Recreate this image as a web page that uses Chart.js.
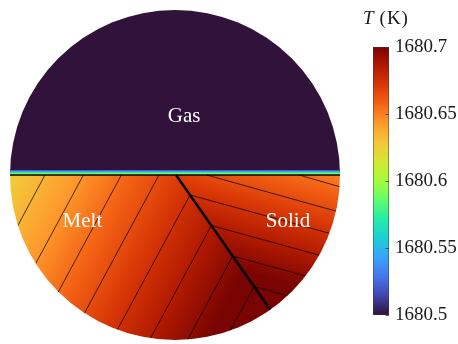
<!DOCTYPE html>
<html>
<head>
<meta charset="utf-8">
<script src="https://cdn.jsdelivr.net/npm/chart.js@4.4.1/dist/chart.umd.min.js"></script>
<style>
  html, body { margin: 0; padding: 0; background: #fff; }
  #wrap { position: relative; width: 458px; height: 344px; overflow: hidden; }
  #field { position: absolute; left: 0; top: 0; }
  #cbar { position: absolute; left: 340px; top: 0; }
</style>
</head>
<body>
<div id="wrap">
  <canvas id="field" width="350" height="344"></canvas>
  <canvas id="cbar" width="118" height="344"></canvas>
</div>
<script>
// ---- colour scale (K) ----
const tempMin = 1680.5;
const tempMax = 1680.7;
const colorbarTicks = [1680.5, 1680.55, 1680.6, 1680.65, 1680.7];
const colorbarTickLabels = ['1680.5', '1680.55', '1680.6', '1680.65', '1680.7'];

// ---- domain: unit disc, coordinates in crucible radii ----
const gasRegion = [[-1.05, 0], [1.05, 0], [1.05, 1.05], [-1.05, 1.05]];
const gasLayerRegion = [[-1.05, 0], [1.05, 0], [1.05, 0.033], [-1.05, 0.033]];
const meltRegion = [[-1.05, 0], [0.006, 0], [0.694, -0.983], [0.694, -1.05], [-1.05, -1.05]];
const solidRegion = [[0.006, 0], [1.05, 0], [1.05, -1.05], [0.694, -1.05], [0.694, -0.983]];
const grainBoundary = [[0.006, 0], [0.694, -0.983]];
const meltInterface = [[-1.05, 0], [1.05, 0]];

// ---- linear temperature fields: two points along the gradient and their temperatures ----
const gasLayerField = { from: [0, 0], fromT: 1680.625, to: [0, 0.033], toT: 1680.5 };
const meltField = { from: [-0.788, 0], fromT: 1680.635, to: [0.479, -0.676], toT: 1680.705 };
const solidField = { from: [0.091, -0.121], fromT: 1680.675, to: [-0.023, -0.535], toT: 1680.705 };

// ---- isotherms (end points) ----
const meltIsothermLevels = [1680.635, 1680.645, 1680.655, 1680.665, 1680.675, 1680.685, 1680.695, 1680.705];
const meltIsotherms = [
  [[-0.788, 0], [-0.966, -0.331]],
  [[-0.555, 0], [-0.858, -0.562]],
  [[-0.325, 0], [-0.721, -0.734]],
  [[-0.097, 0], [-0.562, -0.862]],
  [[0.091, -0.121], [-0.363, -0.963]],
  [[0.220, -0.306], [-0.162, -1.015]],
  [[0.350, -0.491], [0.063, -1.023]],
  [[0.479, -0.676], [0.321, -0.968]]
];
const solidIsothermLevels = [1680.655, 1680.665, 1680.675, 1680.685, 1680.695, 1680.705];
const solidIsotherms = [
  [[0.751, 0], [1.026, -0.079]],
  [[0.192, 0], [1.005, -0.227]],
  [[0.091, -0.121], [0.964, -0.361]],
  [[0.220, -0.306], [0.903, -0.494]],
  [[0.350, -0.491], [0.820, -0.620]],
  [[0.479, -0.676], [0.711, -0.740]]
];

// ---- phase labels ----
const regionLabels = ['Gas', 'Melt', 'Solid'];
const regionLabelPos = [[0.055, 0.321], [-0.561, -0.317], [0.685, -0.317]];

// Turbo colour map, 15 evenly spaced anchors, linearly interpolated
const turboAnchors = ['#30123b', '#4145ab', '#4675ed', '#39a2fc', '#1bcfd4', '#24eca6', '#61fc6c',
  '#a4fc3b', '#d1e834', '#f3c63a', '#fe9b2d', '#f36315', '#d93806', '#b11901', '#7a0402'];
const turboRGB = turboAnchors.map(h => [1, 3, 5].map(i => parseInt(h.substr(i, 2), 16)));
function turbo(t) {
  t = Math.min(1, Math.max(0, t));
  const f = t * (turboRGB.length - 1);
  const i = Math.min(turboRGB.length - 2, Math.floor(f));
  const u = f - i;
  const a = turboRGB[i], b = turboRGB[i + 1];
  const c = k => Math.round(a[k] + (b[k] - a[k]) * u);
  return `rgb(${c(0)},${c(1)},${c(2)})`;
}

function addTurboStops(grad) {
  const n = 56;
  for (let i = 0; i <= n; i++) grad.addColorStop(i / n, turbo(i / n));
  return grad;
}

// Canvas gradient spanning tempMin..tempMax for a linear field
function fieldGradient(chart, f) {
  const xs = chart.scales.x, ys = chart.scales.y;
  if (!chart.chartArea || !xs || !ys) return turbo(0.8);
  const dT = f.toT - f.fromT;
  const at = T => {
    const s = (T - f.fromT) / dT;
    return [f.from[0] + s * (f.to[0] - f.from[0]), f.from[1] + s * (f.to[1] - f.from[1])];
  };
  const p0 = at(tempMin), p1 = at(tempMax);
  const grad = chart.ctx.createLinearGradient(
    xs.getPixelForValue(p0[0]), ys.getPixelForValue(p0[1]),
    xs.getPixelForValue(p1[0]), ys.getPixelForValue(p1[1]));
  return addTurboStops(grad);
}

const toXY = pts => pts.map(([x, y]) => ({ x, y }));

// higher order = painted earlier (further back)
function regionDataset(pts, bg, order) {
  return {
    data: toXY(pts.concat([pts[0]])),
    showLine: true, fill: 'shape', backgroundColor: bg,
    borderColor: 'rgba(0,0,0,0)', borderWidth: 0, pointRadius: 0, order: order
  };
}
function lineDataset(pts, color, width, order) {
  return {
    data: toXY(pts), showLine: true, fill: false,
    borderColor: color, borderWidth: width, pointRadius: 0, order: order,
    borderCapStyle: 'butt'
  };
}

const datasets = [
  regionDataset(gasRegion, turbo(0), 12),
  regionDataset(gasLayerRegion, ctx => fieldGradient(ctx.chart, gasLayerField), 11),
  regionDataset(meltRegion, ctx => fieldGradient(ctx.chart, meltField), 10),
  regionDataset(solidRegion, ctx => fieldGradient(ctx.chart, solidField), 10)
];
meltIsotherms.forEach(seg => datasets.push(lineDataset(seg, 'rgba(0,0,0,0.85)', 0.85, 3)));
solidIsotherms.forEach(seg => datasets.push(lineDataset(seg, 'rgba(0,0,0,0.85)', 0.85, 3)));
datasets.push(lineDataset(grainBoundary, '#000', 2.4, 2));
datasets.push(lineDataset(meltInterface, '#000', 1.6, 1));

// Clip the field to the circular cross-section
const discClip = {
  id: 'discClip',
  beforeDatasetsDraw(chart) {
    const { ctx, scales: { x, y } } = chart;
    const cx = x.getPixelForValue(0), cy = y.getPixelForValue(0);
    const r = x.getPixelForValue(1) - cx;
    ctx.save();
    ctx.beginPath();
    ctx.arc(cx, cy, r, 0, Math.PI * 2);
    ctx.clip();
  },
  afterDatasetsDraw(chart) {
    chart.ctx.restore();
  }
};

// Phase names
const phaseLabels = {
  id: 'phaseLabels',
  afterDraw(chart) {
    const { ctx, scales: { x, y } } = chart;
    ctx.save();
    ctx.font = '21px "Liberation Serif", "Times New Roman", serif';
    ctx.fillStyle = '#ffffff';
    ctx.textAlign = 'center';
    ctx.textBaseline = 'alphabetic';
    regionLabels.forEach((txt, i) => {
      const [px, py] = regionLabelPos[i];
      ctx.fillText(txt, x.getPixelForValue(px), y.getPixelForValue(py));
    });
    ctx.restore();
  }
};

new Chart(document.getElementById('field'), {
  type: 'scatter',
  data: { datasets },
  options: {
    responsive: false,
    animation: false,
    layout: { padding: { left: 10, top: 10, right: 10, bottom: 4 } },
    plugins: { legend: { display: false }, tooltip: { enabled: false } },
    scales: {
      x: { type: 'linear', min: -1, max: 1, display: false },
      y: { type: 'linear', min: -1, max: 1, display: false }
    }
  },
  plugins: [discClip, phaseLabels]
});

// ---- colour bar ----
const colorbarDecor = {
  id: 'colorbarDecor',
  afterDatasetsDraw(chart) {
    const { ctx, chartArea, scales: { y } } = chart;
    ctx.save();
    ctx.strokeStyle = '#3a3a3a';
    ctx.lineWidth = 0.8;
    colorbarTicks.forEach(v => {
      const py = Math.round(y.getPixelForValue(v)) + 0.5;
      ctx.beginPath();
      ctx.moveTo(chartArea.right, py);
      ctx.lineTo(chartArea.right - 3.5, py);
      ctx.stroke();
    });
    // title: T (K)
    const x0 = chartArea.left - 10, base = chartArea.top - 23;
    ctx.fillStyle = '#1a1a1a';
    ctx.textBaseline = 'alphabetic';
    ctx.textAlign = 'left';
    ctx.font = 'italic 19px "Liberation Serif", "Times New Roman", serif';
    ctx.fillText('T', x0, base);
    const wT = ctx.measureText('T').width;
    ctx.font = '19px "Liberation Serif", "Times New Roman", serif';
    let xk = x0 + wT + 6;
    ['(', 'K', ')'].forEach(ch => {
      ctx.fillText(ch, xk, base);
      xk += ctx.measureText(ch).width + 1;
    });
    ctx.restore();
  }
};

new Chart(document.getElementById('cbar'), {
  type: 'bar',
  data: {
    labels: [''],
    datasets: [{
      data: [[tempMin, tempMax]],
      backgroundColor: ctx => {
        const chart = ctx.chart;
        const y = chart.scales.y;
        if (!chart.chartArea || !y) return turbo(0.5);
        const g = chart.ctx.createLinearGradient(0, y.getPixelForValue(tempMin), 0, y.getPixelForValue(tempMax));
        return addTurboStops(g);
      },
      borderColor: '#3a3a3a',
      borderWidth: 0.8,
      borderSkipped: false,
      barPercentage: 1,
      categoryPercentage: 1
    }]
  },
  options: {
    responsive: false,
    animation: false,
    layout: { padding: { left: 33, top: 47, bottom: 29, right: 0 } },
    plugins: { legend: { display: false }, tooltip: { enabled: false } },
    scales: {
      x: { display: false },
      y: {
        position: 'right',
        min: tempMin,
        max: tempMax,
        afterBuildTicks: s => { s.ticks = colorbarTicks.map(v => ({ value: v })); },
        afterFit: s => { s.width = 69; },
        grid: { display: false, drawTicks: false },
        border: { display: false },
        ticks: {
          padding: 6,
          color: '#1a1a1a',
          font: { family: '"Liberation Serif", "Times New Roman", serif', size: 19 },
          callback: v => colorbarTickLabels[colorbarTicks.indexOf(v)]
        }
      }
    }
  },
  plugins: [colorbarDecor]
});
</script>
</body>
</html>
